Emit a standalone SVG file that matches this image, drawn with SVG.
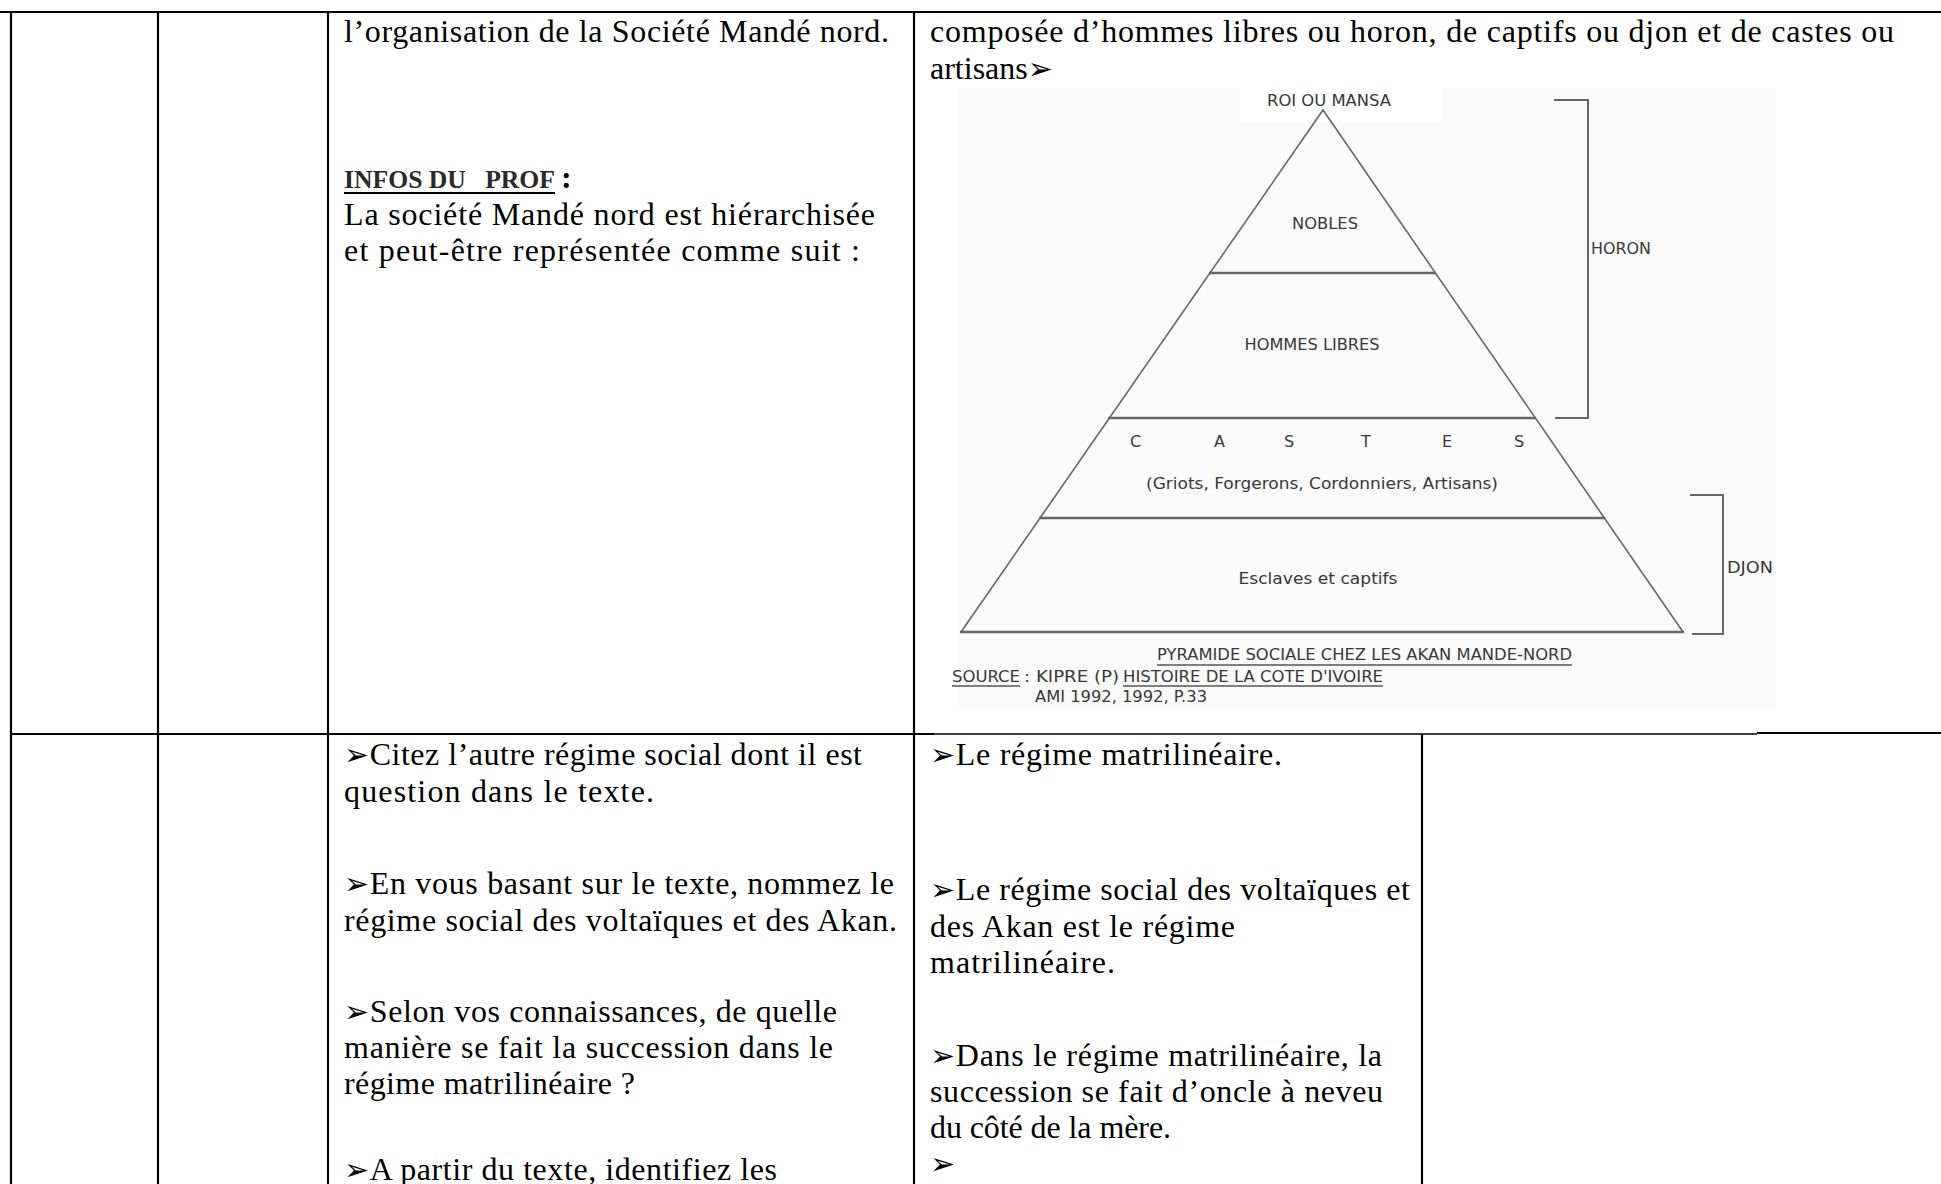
<svg xmlns="http://www.w3.org/2000/svg" width="1941" height="1184" viewBox="0 0 1941 1184">
<style>
.t{font-family:"Liberation Serif","DejaVu Serif",serif;font-size:32px;fill:#000}
.ar{font-family:"DejaVu Sans",sans-serif;font-size:30px}
.g{stroke:#000;stroke-width:2.2;fill:none}
.p{font-family:"DejaVu Sans","Liberation Sans",sans-serif;fill:#383838;font-size:16px}
.pl{stroke:#666;fill:none}
.ul{stroke:#555;stroke-width:1.5}
</style>
<rect width="1941" height="1184" fill="#fff"/>

<g id="table">
  <line class="g" stroke-width="2.6" x1="0" y1="12" x2="1941" y2="12"/>
  <line class="g" x1="11" y1="11" x2="11" y2="1184"/>
  <line class="g" x1="158" y1="11" x2="158" y2="1184"/>
  <line class="g" x1="328" y1="11" x2="328" y2="1184"/>
  <line class="g" x1="914" y1="11" x2="914" y2="1184"/>
  <line class="g" x1="1422" y1="734" x2="1422" y2="1184"/>
  <line class="g" x1="11" y1="734" x2="934" y2="734"/>
  <line stroke="#000" stroke-width="1.5" x1="934" y1="734" x2="1757" y2="734"/>
  <line class="g" stroke-width="2.6" x1="1757" y1="733" x2="1941" y2="733"/>
</g>

<g id="cell-r1-c3">
  <text class="t" x="344" y="42" textLength="545">l’organisation de la Société Mandé nord.</text>
  <text class="t" x="344" y="188" style="font-size:25px;font-weight:bold;fill:#2a2a2a;white-space:pre" xml:space="preserve" textLength="211" lengthAdjust="spacingAndGlyphs">INFOS DU   PROF</text>
  <line x1="344" y1="193" x2="555" y2="193" stroke="#000" stroke-width="2"/>
  <text class="t" x="561" y="188" font-weight="bold">:</text>
  <text class="t" x="344" y="225" textLength="531">La société Mandé nord est hiérarchisée</text>
  <text class="t" x="344" y="261" textLength="516">et peut-être représentée comme suit :</text>
</g>

<g id="cell-r1-c4">
  <text class="t" x="930" y="42" textLength="964">composée d’hommes libres ou horon, de captifs ou djon et de castes ou</text>
  <text class="t" x="930" y="79">artisans<tspan class="ar">➢</tspan></text>
</g>

<g id="pyramid">
  <rect x="959" y="88" width="817" height="620" fill="#fafafa"/>
  <rect x="1240" y="88" width="202" height="34" fill="#fff"/>
  <g id="apex">
    <text class="p" x="1329" y="106" text-anchor="middle" textLength="124" lengthAdjust="spacingAndGlyphs">ROI OU MANSA</text>
  </g>
  <g id="sides">
    <path class="pl" stroke-width="1.6" d="M961 632 L1323 110 L1683 632"/>
  </g>
  <g id="layer-nobles">
    <line class="pl" stroke-width="2.4" x1="1209" y1="273" x2="1436" y2="273"/>
    <text class="p" x="1325" y="229" text-anchor="middle" textLength="66" lengthAdjust="spacingAndGlyphs">NOBLES</text>
  </g>
  <g id="layer-hommes-libres">
    <line class="pl" stroke-width="2.4" x1="1108" y1="418" x2="1536" y2="418"/>
    <text class="p" x="1312" y="350" text-anchor="middle" textLength="135" lengthAdjust="spacingAndGlyphs">HOMMES LIBRES</text>
  </g>
  <g id="layer-castes">
    <line class="pl" stroke-width="2.4" x1="1039" y1="518" x2="1605" y2="518"/>
    <text class="p" y="447"><tspan x="1130">C</tspan><tspan x="1214">A</tspan><tspan x="1284">S</tspan><tspan x="1361">T</tspan><tspan x="1442">E</tspan><tspan x="1514">S</tspan></text>
    <text class="p" x="1322" y="489" text-anchor="middle" textLength="352" lengthAdjust="spacingAndGlyphs">(Griots, Forgerons, Cordonniers, Artisans)</text>
  </g>
  <g id="layer-esclaves">
    <line class="pl" stroke-width="2.4" x1="960" y1="632" x2="1684" y2="632"/>
    <text class="p" x="1318" y="584" text-anchor="middle" textLength="159" lengthAdjust="spacingAndGlyphs">Esclaves et captifs</text>
  </g>
  <g id="label-horon">
    <text class="p" x="1591" y="254" textLength="60" lengthAdjust="spacingAndGlyphs">HORON</text>
  </g>
  <g id="label-djon">
    <text class="p" x="1727" y="573" textLength="46" lengthAdjust="spacingAndGlyphs">DJON</text>
  </g>
  <g id="caption">
    <text class="p" x="1157" y="660" textLength="415" lengthAdjust="spacingAndGlyphs">PYRAMIDE SOCIALE CHEZ LES AKAN MANDE-NORD</text>
    <line class="ul" x1="1157" y1="665" x2="1572" y2="665"/>
    <text class="p" x="952" y="682" textLength="68" lengthAdjust="spacingAndGlyphs">SOURCE</text>
    <line class="ul" x1="952" y1="686" x2="1020" y2="686"/>
    <text class="p" x="1024" y="682" xml:space="preserve" style="white-space:pre" textLength="95" lengthAdjust="spacingAndGlyphs">: KIPRE (P)</text>
    <text class="p" x="1123" y="682" textLength="260" lengthAdjust="spacingAndGlyphs">HISTOIRE DE LA COTE D'IVOIRE</text>
    <line class="ul" x1="1123" y1="686" x2="1383" y2="686"/>
    <text class="p" x="1035" y="702" textLength="172" lengthAdjust="spacingAndGlyphs">AMI 1992, 1992, P.33</text>
  </g>
</g>

<g id="connectors">
  <path class="pl" stroke-width="2" d="M1554 100 H1588 V418 H1555"/>
  <path class="pl" stroke-width="2" d="M1690 495 H1723 V634 H1692"/>
</g>

<g id="cell-r2-c3">
  <text class="t" x="344" y="765" textLength="518"><tspan class="ar">➢</tspan>Citez l’autre régime social dont il est</text>
  <text class="t" x="344" y="802" textLength="310">question dans le texte.</text>
  <text class="t" x="344" y="894" textLength="550"><tspan class="ar">➢</tspan>En vous basant sur le texte, nommez le</text>
  <text class="t" x="344" y="931" textLength="553">régime social des voltaïques et des Akan.</text>
  <text class="t" x="344" y="1022" textLength="493"><tspan class="ar">➢</tspan>Selon vos connaissances, de quelle</text>
  <text class="t" x="344" y="1058" textLength="489">manière se fait la succession dans le</text>
  <text class="t" x="344" y="1094" textLength="291">régime matrilinéaire ?</text>
  <text class="t" x="344" y="1180" textLength="433"><tspan class="ar">➢</tspan>A partir du texte, identifiez les</text>
</g>

<g id="cell-r2-c4">
  <text class="t" x="930" y="765" textLength="352"><tspan class="ar">➢</tspan>Le régime matrilinéaire.</text>
  <text class="t" x="930" y="900" textLength="480"><tspan class="ar">➢</tspan>Le régime social des voltaïques et</text>
  <text class="t" x="930" y="937" textLength="305">des Akan est le régime</text>
  <text class="t" x="930" y="973" textLength="185">matrilinéaire.</text>
  <text class="t" x="930" y="1066" textLength="452"><tspan class="ar">➢</tspan>Dans le régime matrilinéaire, la</text>
  <text class="t" x="930" y="1102" textLength="453">succession se fait d’oncle à neveu</text>
  <text class="t" x="930" y="1138" textLength="241">du côté de la mère.</text>
  <text class="t" x="930" y="1174"><tspan class="ar">➢</tspan></text>
</g>
</svg>
